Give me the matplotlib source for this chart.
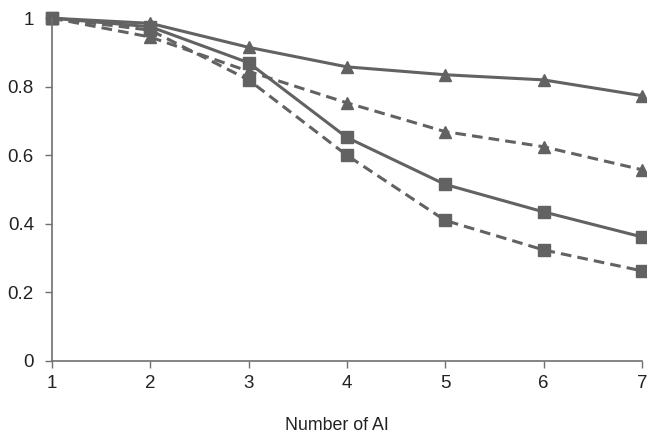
import matplotlib
matplotlib.use("Agg")
import matplotlib.pyplot as plt

plt.rcParams["font.family"] = ["Liberation Sans", "DejaVu Sans"]

# --- data ---
n_ai = [1, 2, 3, 4, 5, 6, 7]
tri_solid = [1.0, 0.985, 0.915, 0.858, 0.835, 0.82, 0.774]
tri_dashed = [1.0, 0.945, 0.845, 0.753, 0.669, 0.625, 0.558]
sq_solid = [1.0, 0.975, 0.87, 0.652, 0.515, 0.435, 0.362]
sq_dashed = [1.0, 0.965, 0.82, 0.60, 0.41, 0.324, 0.263]

col = "#626262"

fig = plt.figure(figsize=(6.47, 4.33), dpi=100)
ax = fig.add_axes([0.0804, 0.1663, 0.9116, 0.7917])

ax.plot(n_ai, tri_solid, color=col, lw=2.2, ls="-", marker="^", ms=8, clip_on=False)
ax.plot(n_ai, tri_dashed, color=col, lw=2.2, ls=(0, (3.5, 2)), marker="^", ms=8, clip_on=False)
ax.plot(n_ai, sq_solid, color=col, lw=2.2, ls="-", marker="s", ms=8, clip_on=False)
ax.plot(n_ai, sq_dashed, color=col, lw=2.2, ls=(0, (3.5, 2)), marker="s", ms=8, clip_on=False)

ax.set_xlim(1, 7)
ax.set_ylim(0, 1)
ax.set_xticks(n_ai)
ax.set_yticks([0, 0.2, 0.4, 0.6, 0.8, 1])
ax.set_yticklabels(["0", "0.2", "0.4", "0.6", "0.8", "1"])

for s in ["top", "right"]:
    ax.spines[s].set_visible(False)
for s in ["left", "bottom"]:
    ax.spines[s].set_color("#707070")
    ax.spines[s].set_linewidth(1.2)

ax.tick_params(axis="both", colors="#707070", labelcolor="#222222", labelsize=13.5, length=5, width=1)
ax.tick_params(axis="x", pad=5)
ax.tick_params(axis="y", pad=8)

ax.set_xlabel("Number of AI", fontsize=12.8, color="#222222", va="center")
ax.xaxis.set_label_coords(0.483, -0.187)

plt.savefig("out.png", dpi=100)
plt.close()
